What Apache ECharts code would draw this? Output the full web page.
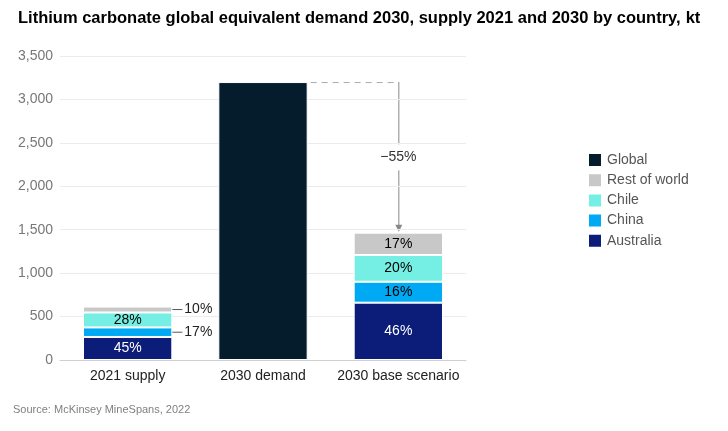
<!DOCTYPE html>
<html>
<head>
<meta charset="utf-8">
<script src="https://cdn.jsdelivr.net/npm/echarts@6/dist/echarts.min.js"></script>
<style>html,body{margin:0;padding:0;background:#fff}#c{width:728px;height:431px}</style>
</head>
<body>
<div id="c"></div>
<script>
const categories = ['2021 supply', '2030 demand', '2030 base scenario'];
const australia = [265, null, 660];
const china = [110, null, 241];
const chile = [172, null, 308];
const restOfWorld = [68, null, 257];
const globalDemand = [null, 3200, null];
const pctAustralia = ['45%', '', '46%'];
const pctChina = ['17%', '', '16%'];
const pctChile = ['28%', '', '20%'];
const pctRest = ['10%', '', '17%'];
const changeLabel = '\u221255%';
const yMin = 0, yMax = 3500, yInterval = 500;

const FONT = 'Liberation Sans';
const chart = echarts.init(document.getElementById('c'), null, {renderer: 'canvas'});

function mkData(vals, pcts, color, outsideIdx) {
  return vals.map((v, i) => {
    if (v == null) return '-';
    const item = {value: v, label: {show: true, formatter: pcts[i], color: color}};
    if (outsideIdx.includes(i)) {
      item.label = {
        show: true, position: 'right', distance: 0,
        formatter: '{l|}{t|' + pcts[i] + '}',
        rich: {
          l: {width: 10, height: 1, backgroundColor: '#555'},
          t: {color: '#222', fontSize: 14, fontFamily: FONT, padding: [0, 0, 0, 2]}
        }
      };
    }
    return item;
  });
}

const common = {
  type: 'bar', stack: 'total', barCategoryGap: '34%',
  itemStyle: {borderColor: '#fff', borderWidth: 1},
  label: {fontSize: 14, fontFamily: FONT},
  emphasis: {disabled: true}
};

const sourceText = {
  type: 'text', left: 13, top: 404,
  style: {text: 'Source: McKinsey MineSpans, 2022', fontSize: 11, fill: '#808080', fontFamily: FONT}
};

chart.setOption({
  animation: false,
  textStyle: {fontFamily: FONT},
  title: {
    left: 13, top: 4,
    text: '{b|Lithium carbonate global equivalent demand 2030, supply 2021 and 2030 by country,} {n|kt}',
    textStyle: {
      rich: {
        b: {fontSize: 16.5, fontWeight: 'bold', color: '#000', fontFamily: FONT},
        n: {fontSize: 16.5, color: '#000', fontFamily: FONT}
      }
    }
  },
  legend: {
    orient: 'vertical', left: 582, top: 147,
    itemWidth: 14, itemHeight: 14, itemGap: 4.2,
    icon: 'rect',
    textStyle: {fontSize: 14, color: '#555', fontFamily: FONT},
    data: ['Global', 'Rest of world', 'Chile', 'China', 'Australia']
  },
  grid: {left: 60, right: 262, top: 56, bottom: 71},
  xAxis: {
    type: 'category', data: categories,
    axisTick: {show: false},
    axisLine: {lineStyle: {color: '#d0d0d0'}},
    axisLabel: {fontSize: 14, color: '#222', margin: 9, interval: 0, fontFamily: FONT}
  },
  yAxis: {
    type: 'value', min: yMin, max: yMax, interval: yInterval,
    axisLine: {show: false}, axisTick: {show: false},
    splitLine: {lineStyle: {color: '#ececec'}},
    axisLabel: {fontSize: 14, color: '#777', margin: 7, fontFamily: FONT,
      formatter: v => v.toLocaleString('en-US')}
  },
  series: [
    Object.assign({}, common, {name: 'Australia', color: '#0b1d78',
      data: mkData(australia, pctAustralia, '#fff', [])}),
    Object.assign({}, common, {name: 'China', color: '#00a9f4',
      data: mkData(china, pctChina, '#000', [0])}),
    Object.assign({}, common, {name: 'Chile', color: '#75efe3',
      data: mkData(chile, pctChile, '#000', [])}),
    Object.assign({}, common, {name: 'Rest of world', color: '#c8c8c8',
      data: mkData(restOfWorld, pctRest, '#000', [0])}),
    Object.assign({}, common, {name: 'Global', color: '#051c2c',
      data: globalDemand.map(v => v == null ? '-' : v)})
  ],
  graphic: [sourceText]
});

// annotation from demand bar to base scenario
const pDemand = chart.convertToPixel({gridIndex: 0}, [categories[1], globalDemand[1]]);
const p0 = chart.convertToPixel({gridIndex: 0}, [categories[0], 0]);
const baseTotal = australia[2] + china[2] + chile[2] + restOfWorld[2];
const pBase = chart.convertToPixel({gridIndex: 0}, [categories[2], baseTotal]);
const band = pDemand[0] - p0[0];
const barW = band * 0.66;
const xStart = pDemand[0] + barW / 2;
const xArrow = pBase[0];
const yTop = pDemand[1];
const yTip = pBase[1];
const yMid = (yTop + yTip) / 2;
const lineColor = '#888';
chart.setOption({
  graphic: [sourceText, {
    type: 'line', shape: {x1: xStart + 3, y1: yTop + 0.5, x2: xArrow, y2: yTop + 0.5},
    style: {stroke: '#aaa', lineWidth: 1, lineDash: [6, 5]}
  }, {
    type: 'line', shape: {x1: xArrow + 0.5, y1: yTop, x2: xArrow + 0.5, y2: yMid - 13},
    style: {stroke: lineColor, lineWidth: 1}
  }, {
    type: 'line', shape: {x1: xArrow + 0.5, y1: yMid + 13, x2: xArrow + 0.5, y2: yTip - 7},
    style: {stroke: lineColor, lineWidth: 1}
  }, {
    type: 'polygon', shape: {points: [[xArrow - 3, yTip - 8], [xArrow + 4, yTip - 8], [xArrow + 0.5, yTip - 1]]},
    style: {fill: lineColor}
  }, {
    type: 'text', x: xArrow, y: yMid,
    style: {text: changeLabel, fontSize: 14, fill: '#333', fontFamily: FONT, align: 'center', verticalAlign: 'middle'}
  }]
});
</script>
</body>
</html>
